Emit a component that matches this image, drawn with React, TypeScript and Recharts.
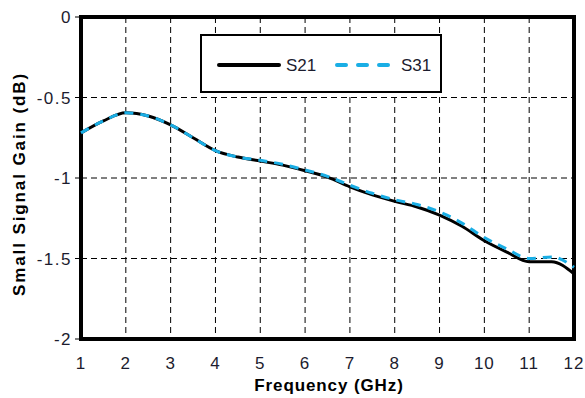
import { LineChart, Line, XAxis, YAxis, CartesianGrid, ReferenceArea } from 'recharts';

const freq = [1, 1.5, 2, 2.5, 3, 3.5, 4, 4.5, 5, 5.5, 6, 6.5, 7, 7.5, 8, 8.5, 9, 9.5, 10, 10.5, 11, 11.5, 12];
const s21 = [-0.72, -0.645, -0.595, -0.615, -0.67, -0.75, -0.83, -0.87, -0.895, -0.92, -0.955, -0.995, -1.055, -1.105, -1.145, -1.18, -1.23, -1.3, -1.39, -1.46, -1.52, -1.52, -1.595];
const s31 = [-0.72, -0.645, -0.595, -0.615, -0.67, -0.75, -0.83, -0.87, -0.89, -0.915, -0.95, -0.99, -1.045, -1.095, -1.135, -1.165, -1.21, -1.28, -1.37, -1.44, -1.5, -1.49, -1.555];
const xTicks = [1, 2, 3, 4, 5, 6, 7, 8, 9, 10, 11, 12];
const yTicks = [0, -0.5, -1, -1.5, -2];

const data = freq.map((f, i) => ({ f, s21: s21[i], s31: s31[i] }));

const font = '"Liberation Sans", Arial, sans-serif';
const textColor = '#1c1c2e';

function GainLegend() {
  return (
    <div style={{ position: 'absolute', left: 200, top: 34, width: 238, height: 55, border: '2px solid #000', background: '#fff' }}>
      <svg width={238} height={55} style={{ display: 'block' }}>
        <line x1={17} y1={29} x2={77} y2={29} stroke="#000" strokeWidth={4} strokeLinecap="round" />
        <text x={84} y={35} fontFamily={font} fontSize={17} fill={textColor}>S21</text>
        <line x1={135} y1={29} x2={193} y2={29} stroke="#1aaee5" strokeWidth={4} strokeDasharray="9 12" strokeLinecap="round" />
        <text x={199} y={35} fontFamily={font} fontSize={17} fill={textColor}>S31</text>
      </svg>
    </div>
  );
}

const XTitle = () => (
  <text x={329} y={391} textAnchor="middle" fontFamily={font} fontSize={17} fontWeight="bold" letterSpacing={0.9} fill="#000">
    Frequency (GHz)
  </text>
);

const YTitle = () => (
  <text x={25} y={184} transform="rotate(-90, 25, 184)" textAnchor="middle" fontFamily={font} fontSize={17} fontWeight="bold" letterSpacing={1.9} fill="#000">
    Small Signal Gain (dB)
  </text>
);

export default function App() {
  return (
    <div style={{ position: 'absolute', left: 0, top: 0, width: 585, height: 398, background: '#fff' }}>
      <LineChart width={585} height={398} data={data} margin={{ top: 17, right: 11, bottom: 29, left: 0 }}>
        <CartesianGrid stroke="#000" strokeDasharray="6 4" strokeWidth={1} />
        <XAxis
          dataKey="f"
          type="number"
          domain={[1, 12]}
          ticks={xTicks}
          height={30}
          axisLine={false}
          tickLine={false}
          tickMargin={12}
          tick={{ fill: textColor, fontSize: 17, fontFamily: font, letterSpacing: 1 }}
          label={<XTitle />}
        />
        <YAxis
          type="number"
          domain={[-2, 0]}
          ticks={yTicks}
          width={81}
          axisLine={false}
          tickSize={6}
          tickLine={{ stroke: '#000' }}
          tickMargin={3}
          tick={{ fill: textColor, fontSize: 17, fontFamily: font, letterSpacing: 1.5 }}
          label={<YTitle />}
        />
        <ReferenceArea x1={1} x2={12} y1={-2} y2={0} fill="none" stroke="#000" strokeWidth={4} ifOverflow="visible" />
        <Line dataKey="s21" type="monotone" stroke="#000" strokeWidth={3} dot={false} isAnimationActive={false} />
        <Line dataKey="s31" type="monotone" stroke="#1aaee5" strokeWidth={3} strokeDasharray="9 7" dot={false} isAnimationActive={false} />
      </LineChart>
      <GainLegend />
    </div>
  );
}
